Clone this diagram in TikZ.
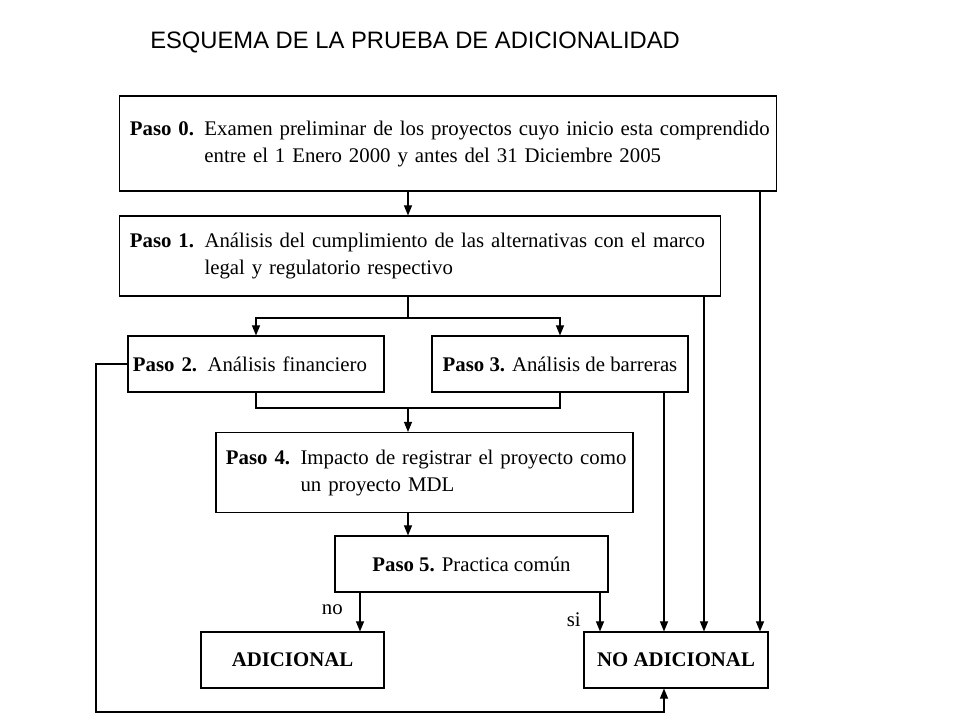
\documentclass[tikz,border=0pt]{standalone}
\usepackage{fontspec}
\setmainfont{Liberation Serif}
\setsansfont{Liberation Sans}
\usetikzlibrary{arrows.meta}

\tikzset{
	paso/.style={draw, line width=0.8pt, inner xsep=0.25cm, inner ysep=0pt, align=left, font=\fontsize{14.8}{19.2}\selectfont},
	fin/.style={paso, align=center, minimum height=1.4cm, font=\fontsize{14.8}{19.2}\selectfont\bfseries},
	linea/.style={line width=0.8pt},
	flecha/.style={line width=0.8pt, -{Triangle[length=0.25cm,width=0.2cm]}},
	rotulo/.style={font=\fontsize{14.8}{16}\selectfont}
}

\begin{document}
\begin{tikzpicture}[x=0.025cm, y=-0.025cm]
	\useasboundingbox (0,0) rectangle (960,720);

	\node[anchor=west, inner sep=0pt, font=\sffamily\fontsize{16.9}{18}\selectfont] (titulo) at (150,42) {ESQUEMA DE LA PRUEBA DE ADICIONALIDAD};

	\node[paso, text width=15.9cm, minimum height=2.375cm] (paso0) at (448,143.5) {\begin{tabular}{@{}l@{ }l@{}}\textbf{Paso 0.} & Examen preliminar de los proyectos cuyo inicio esta comprendido\\ & entre el 1 Enero 2000 y antes del 31 Diciembre 2005\end{tabular}};
	\node[paso, text width=14.5cm, minimum height=2cm] (paso1) at (420,256) {\begin{tabular}{@{}l@{ }l@{}}\textbf{Paso 1.} & Análisis del cumplimiento de las alternativas con el marco\\ & legal y regulatorio respectivo\end{tabular}};
	\node[paso, inner xsep=0.125cm, text width=6.15cm, minimum height=1.4cm] (paso2) at (256,364) {\textbf{Paso 2.} Análisis financiero};
	\node[paso, align=center, inner xsep=0pt, minimum width=6.4cm, minimum height=1.4cm] (paso3) at (560,364) {\textbf{Paso 3.} Análisis de barreras};
	\node[paso, text width=9.925cm, minimum height=2cm] (paso4) at (424.5,472.5) {\begin{tabular}{@{}l@{ }l@{}}\textbf{Paso 4.} & Impacto de registrar el proyecto como\\ & un proyecto MDL\end{tabular}};
	\node[paso, align=center, minimum width=6.825cm, minimum height=1.4cm] (paso5) at (471.5,564) {\textbf{Paso 5.} Practica común};
	\node[fin, minimum width=4.575cm] (adicional) at (292.5,660) {ADICIONAL};
	\node[fin, minimum width=4.6cm] (noadicional) at (676,660) {NO ADICIONAL};

	\coordinate (eje) at (408,0);
	\coordinate (bif1) at (408,318);
	\coordinate (bif2) at (408,408);
	\coordinate (s0) at (760,0);
	\coordinate (s1) at (704,0);
	\coordinate (s3) at (664,0);
	\coordinate (sno) at (360,0);
	\coordinate (ssi) at (600,0);
	\coordinate (retorno) at (96,712);

	\draw[flecha] (paso0.south -| eje) -- (paso1.north -| eje);
	\draw[linea] (paso1.south -| eje) -- (bif1);
	\draw[flecha] (bif1) -| (paso2.north);
	\draw[flecha] (bif1) -| (paso3.north);
	\draw[linea] (paso2.south) |- (bif2) -| (paso3.south);
	\draw[flecha] (bif2) -- (paso4.north -| bif2);
	\draw[flecha] (paso4.south -| eje) -- (paso5.north -| eje);

	\draw[flecha] (paso5.south -| sno) -- node[rotulo, left=0.3cm, pos=0.45] {no} (adicional.north -| sno);
	\draw[flecha] (paso5.south -| ssi) -- node[rotulo, left=0.35cm, pos=0.7] {si} (noadicional.north -| ssi);
	\draw[flecha] (paso3.south -| s3) -- (noadicional.north -| s3);
	\draw[flecha] (paso1.south -| s1) -- (noadicional.north -| s1);
	\draw[flecha] (paso0.south -| s0) -- (noadicional.north -| s0);
	\draw[flecha] (paso2.west) -| (retorno) -| (noadicional.south -| s3);
\end{tikzpicture}
\end{document}
